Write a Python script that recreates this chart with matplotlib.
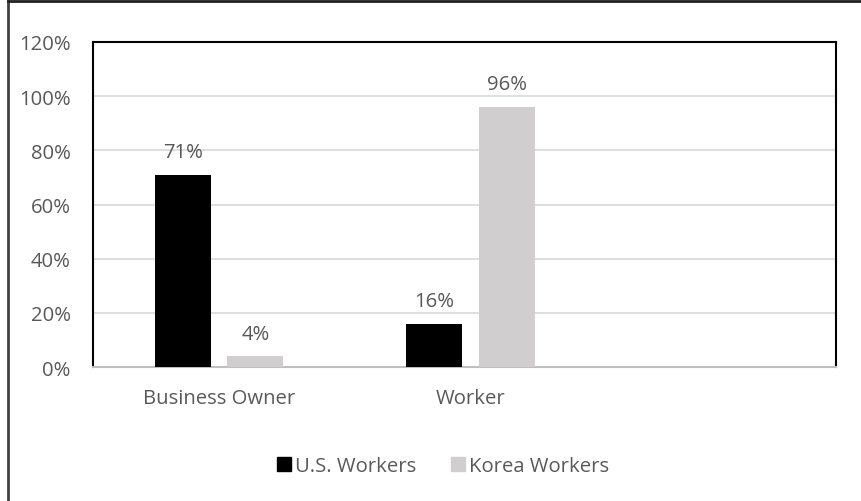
import numpy as np
import matplotlib.pyplot as plt
from matplotlib.lines import Line2D

# chart data
categories = ['Business Owner', 'Worker']
series_names = ['U.S. Workers', 'Korea Workers']
us_values = [71, 16]
korea_values = [4, 96]
y_ticks = [0, 20, 40, 60, 80, 100, 120]

text_color = '#595959'
colors = ['#000000', '#d0cece']
fs = 14.6

plt.rcParams['font.family'] = ['Open Sans', 'DejaVu Sans']

fig = plt.figure(figsize=(8.61, 5.02), dpi=100)
# plot area in pixels: x 93..836, y 43..368
ax = fig.add_axes([93 / 861, 1 - 368 / 502, (836 - 93) / 861, (368 - 43) / 502])

x = np.arange(len(categories))
width = 0.223
offset = 0.144

bars_us = ax.bar(x - offset, us_values, width, color=colors[0], label=series_names[0], zorder=3)
bars_kr = ax.bar(x + offset, korea_values, width, color=colors[1], label=series_names[1], zorder=3)

for bars in (bars_us, bars_kr):
    for b in bars:
        ax.annotate(f'{int(b.get_height())}%', (b.get_x() + b.get_width() / 2, b.get_height()),
                    xytext=(0, 9), textcoords='offset points', ha='center', va='bottom',
                    fontsize=fs, color=text_color)

ax.set_xlim(-0.502, 2.454)
ax.set_ylim(0, 120)
ax.set_yticks(y_ticks)
ax.set_yticklabels([f'{t}%' for t in y_ticks])
ax.set_xticks(x)
ax.set_xticklabels(categories)
ax.tick_params(axis='both', length=0, labelsize=fs, labelcolor=text_color)
ax.tick_params(axis='x', pad=15)
ax.tick_params(axis='y', pad=16)
ax.grid(axis='y', color='#d9d9d9', linewidth=1.2, zorder=0)

for side in ['top', 'right', 'left']:
    ax.spines[side].set_color('black')
    ax.spines[side].set_linewidth(1.5)
ax.spines['bottom'].set_color('#bfbfbf')
ax.spines['bottom'].set_linewidth(1.5)

handles = [plt.Rectangle((0, 0), 1, 1, color=c) for c in colors]
fig.legend(handles, series_names, loc='center', bbox_to_anchor=(443 / 861, 1 - 467 / 502),
           ncol=2, frameon=False, fontsize=fs, labelcolor=text_color,
           handlelength=0.7, handleheight=0.7, handletextpad=0.2, columnspacing=1.7)

# outer chart border (left and top edges visible)
fig.add_artist(Line2D([8 / 861, 8 / 861], [0, 1 - 2 / 502], transform=fig.transFigure,
                      color='#404040', linewidth=2))
fig.add_artist(Line2D([8 / 861, 1], [1 - 2 / 502, 1 - 2 / 502], transform=fig.transFigure,
                      color='#202020', linewidth=2))

fig.savefig('out.png', dpi=100)
